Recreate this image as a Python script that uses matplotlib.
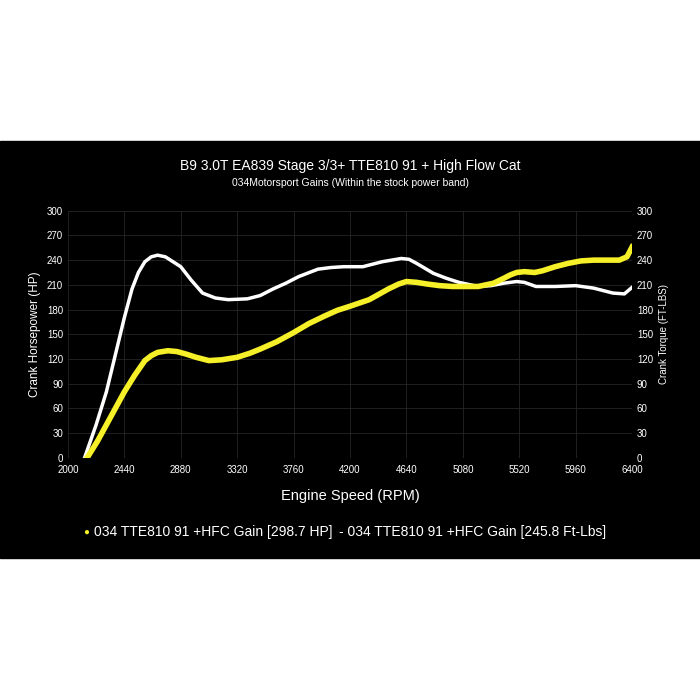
import matplotlib.pyplot as plt
from matplotlib.patches import Rectangle

plt.rcParams['font.family'] = ['Liberation Sans', 'DejaVu Sans']

rpm_hp = [2150, 2230, 2300, 2370, 2440, 2520, 2600, 2650, 2700, 2780, 2850, 2920, 3000, 3100, 3200, 3320,
          3420, 3500, 3630, 3760, 3880, 4000, 4100, 4200, 4350, 4500, 4580, 4640, 4720, 4800, 4900, 5000,
          5100, 5200, 5260, 5320, 5400, 5450, 5500, 5560, 5640, 5700, 5800, 5900, 6000, 6100, 6200, 6300,
          6360, 6400]
hp = [0, 20, 40, 60, 80, 100, 118, 124, 128, 130, 129, 126, 122, 118, 119, 122,
      127, 132, 141, 152, 163, 172, 179, 184, 192, 205, 211, 214, 213, 211, 209, 208,
      208, 208, 210, 212, 218, 222, 225, 226, 225, 227, 232, 236, 239, 240, 240, 240,
      244, 256]

rpm_tq = [2130, 2220, 2300, 2370, 2440, 2500, 2550, 2600, 2650, 2700, 2760, 2880, 2960, 3050, 3150, 3250,
          3400, 3500, 3600, 3700, 3800, 3900, 3950, 4050, 4150, 4300, 4450, 4600, 4660, 4720, 4850, 4950,
          5050, 5200, 5300, 5400, 5500, 5560, 5650, 5800, 5960, 6100, 6250, 6340, 6400]
tq = [0, 40, 80, 125, 170, 205, 225, 238, 244, 246, 244, 232, 216, 200, 194, 192,
      193, 197, 205, 212, 220, 226, 229, 231, 232, 232, 238, 242, 241, 236, 224, 218,
      213, 208, 209, 212, 214, 213, 208, 208, 209, 206, 200, 199, 207]

xticks = list(range(2000, 6401, 440))
yticks = list(range(0, 301, 30))

fig = plt.figure(figsize=(7, 7), dpi=100, facecolor='white')
fig.add_artist(Rectangle((0, 0.203), 1, 0.596, transform=fig.transFigure, color='black', zorder=-10))

ax = fig.add_axes([0.097, 0.346, 0.806, 0.353])
ax.set_facecolor('black')
ax.plot(rpm_tq, tq, color='white', lw=2.5, zorder=3, solid_joinstyle='round')
ax.plot(rpm_hp, hp, color='#f5f028', lw=4, zorder=4, solid_joinstyle='round')
ax.set_xlim(2000, 6400)
ax.set_ylim(0, 300)
ax.set_xticks(xticks)
ax.set_yticks(yticks)
ax.grid(color='#262626', lw=0.6)
for s in ax.spines.values():
    s.set_visible(False)
ax.tick_params(colors='white', labelsize=7, length=0)
ax.tick_params(axis='x', pad=5)
ax.set_xlabel('Engine Speed (RPM)', color='white', fontsize=10.5, labelpad=10)
ax.set_ylabel('Crank Horsepower (HP)', color='white', fontsize=8.5)

ax2 = ax.twinx()
ax2.set_ylim(0, 300)
ax2.set_yticks(yticks)
for s in ax2.spines.values():
    s.set_visible(False)
ax2.tick_params(colors='white', labelsize=7, length=0)
ax2.set_ylabel('Crank Torque (FT-LBS)', color='white', fontsize=7)

fig.text(0.5, 0.757, 'B9 3.0T EA839 Stage 3/3+ TTE810 91 + High Flow Cat', color='white', ha='center', fontsize=10)
fig.text(0.5, 0.735, '034Motorsport Gains (Within the stock power band)', color='white', ha='center', fontsize=7.5)

fig.text(0.119, 0.241, '\u25cf', color='#f5f028', fontsize=7, va='center')
fig.text(0.134, 0.24, '034 TTE810 91 +HFC Gain [298.7 HP]', color='white', fontsize=10, va='center')
fig.text(0.484, 0.24, '- 034 TTE810 91 +HFC Gain [245.8 Ft-Lbs]', color='white', fontsize=10, va='center')

fig.savefig('out.png', dpi=100, facecolor='white')
